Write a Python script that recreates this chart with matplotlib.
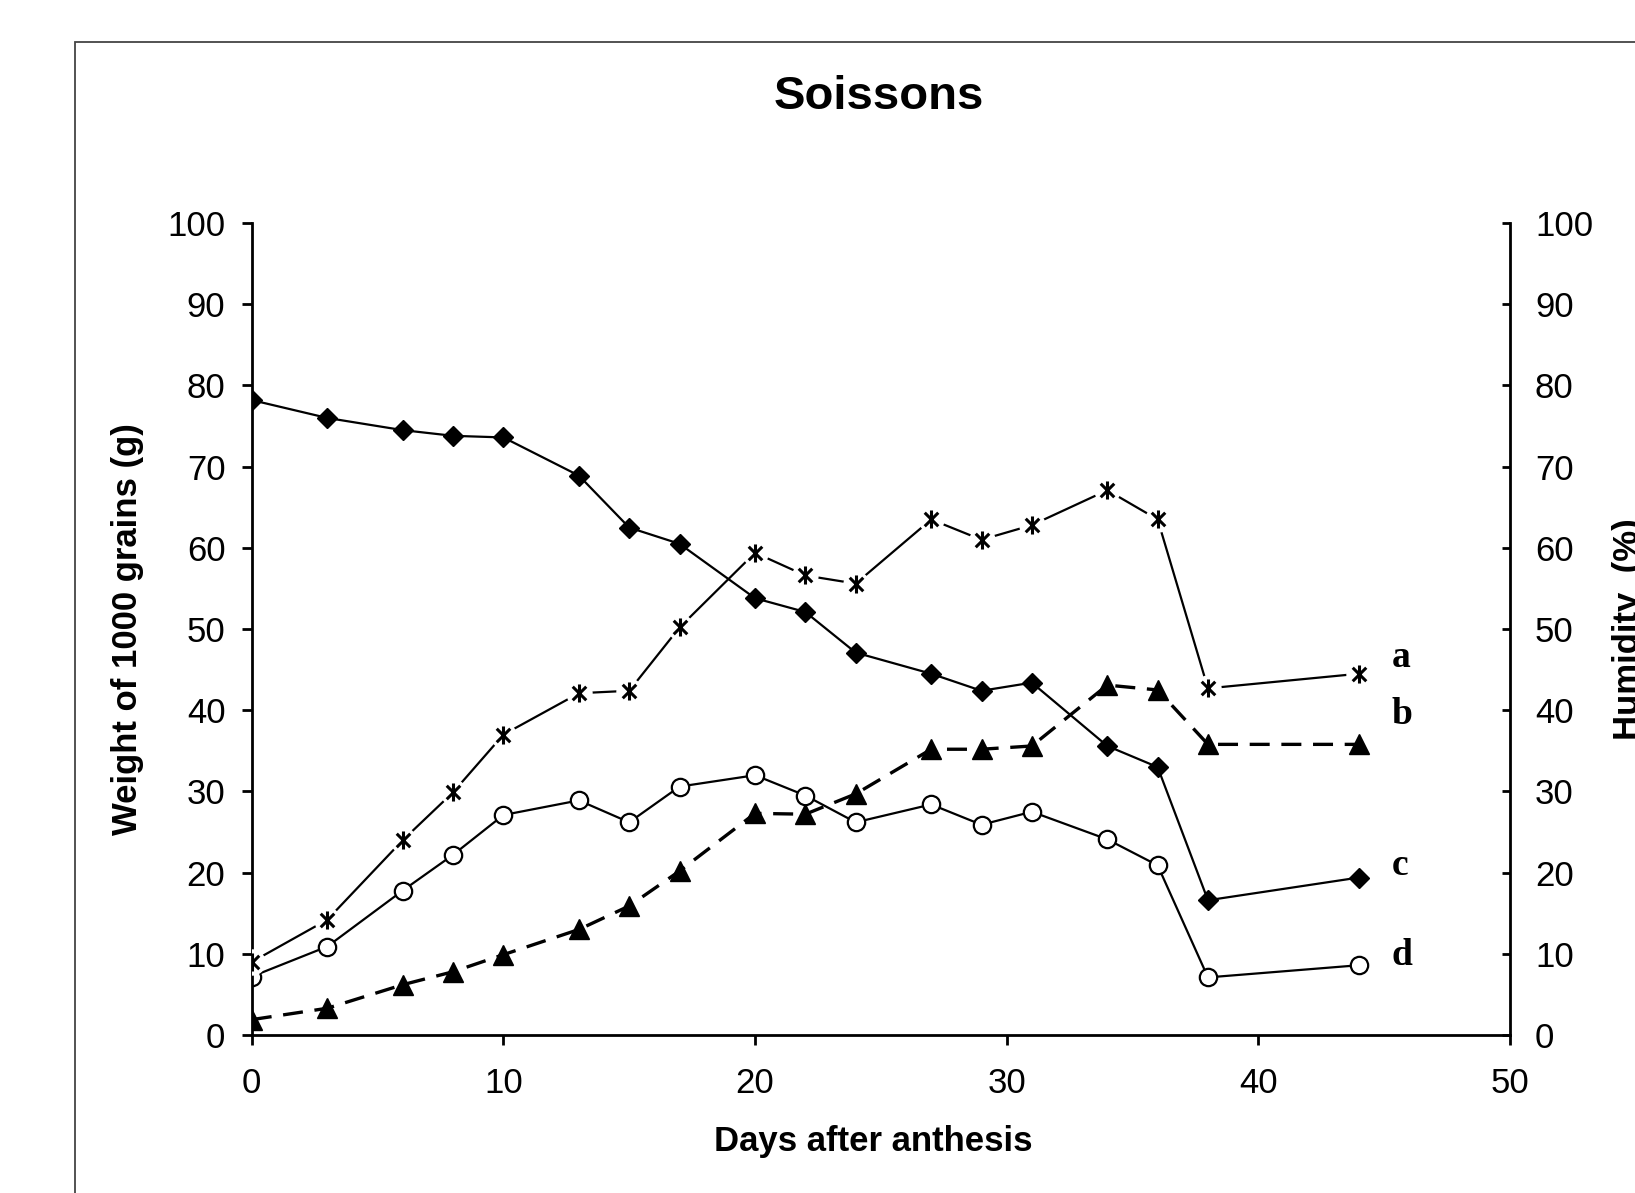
import numpy as np
import matplotlib
matplotlib.use("Agg")
import matplotlib.pyplot as plt
from matplotlib.path import Path
from matplotlib.patches import Rectangle

plt.rcParams['font.family'] = ['Liberation Sans', 'DejaVu Sans']

# Data
days = [0, 3, 6, 8, 10, 13, 15, 17, 20, 22, 24, 27, 29, 31, 34, 36, 38, 44]
series_a = [9.0, 14.2, 24.0, 29.9, 37.0, 42.1, 42.4, 50.2, 59.4, 56.6,
            55.6, 63.5, 61.0, 62.8, 67.1, 63.5, 42.7, 44.5]
series_b = [1.9, 3.3, 6.2, 7.8, 9.9, 13.0, 15.9, 20.2, 27.3, 27.2,
            29.7, 35.2, 35.2, 35.6, 43.1, 42.5, 35.8, 35.8]
series_c = [78.2, 76.0, 74.5, 73.8, 73.6, 68.9, 62.5, 60.5, 53.8, 52.1,
            47.1, 44.5, 42.4, 43.4, 35.6, 33.0, 16.6, 19.4]
series_d = [7.2, 10.9, 17.8, 22.2, 27.1, 28.9, 26.2, 30.6, 32.0, 29.5,
            26.2, 28.4, 25.9, 27.5, 24.1, 20.9, 7.1, 8.6]
end_labels = ['a', 'b', 'c', 'd']
end_label_y = [46.5, 39.5, 20.9, 9.8]

# asterisk marker: vertical stroke plus an x
star = Path([(0, -1), (0, 1), (-0.75, -0.75), (0.75, 0.75), (-0.75, 0.75), (0.75, -0.75)],
            [Path.MOVETO, Path.LINETO, Path.MOVETO, Path.LINETO, Path.MOVETO, Path.LINETO])

fig = plt.figure(figsize=(16.35, 11.93), dpi=100)
ax = fig.add_axes([0.154, 0.1324, 0.7695, 0.6806])
ax2 = ax.twinx()

# frame around the chart area
fig.patches.append(Rectangle((75 / 1635, -0.1), 1.2, 1 - 42 / 1193 + 0.1,
                             transform=fig.transFigure, fill=False,
                             edgecolor='#444444', linewidth=1.3))

lw = 1.6
# a: asterisks, solid
ax.plot(days, series_a, color='black', lw=lw, zorder=2)
ax.plot(days, series_a, ls='none', marker='o', ms=19, mfc='white', mec='none', zorder=3)
ax.plot(days, series_a, ls='none', marker=star, ms=13, mec='black', mew=2.2, zorder=4)
# b: triangles, dashed
ax.plot(days, series_b, color='black', lw=2.4, ls=(0, (6, 3.5)), marker='^', ms=14,
        mfc='black', mec='black', zorder=2)
# d: open circles
ax.plot(days, series_d, color='black', lw=lw, marker='o', ms=12.5, mfc='white',
        mec='black', mew=1.6, zorder=2)
# c: diamonds (humidity, right axis)
ax2.plot(days, series_c, color='black', lw=lw, marker='D', ms=10.5, mfc='black',
         mec='black', zorder=2)

for lab, yv in zip(end_labels, end_label_y):
    ax.text(45.3, yv, lab, fontsize=27, fontweight='bold', ha='left', va='center',
            family=['Liberation Serif', 'DejaVu Serif'])

for a in (ax, ax2):
    a.set_xlim(0, 50)
    a.set_ylim(0, 100)
    a.set_yticks(np.arange(0, 101, 10))
    a.spines['top'].set_visible(False)
    for s in ('left', 'right', 'bottom'):
        a.spines[s].set_linewidth(2.0)
ax.spines['right'].set_visible(False)
ax2.spines['left'].set_visible(False)
ax2.spines['bottom'].set_visible(False)
ax.set_xticks(np.arange(0, 51, 10))
ax.tick_params(axis='both', labelsize=25, width=2, length=7, direction='out')
ax.tick_params(axis='y', pad=12)
ax.tick_params(axis='x', pad=16)
ax2.tick_params(axis='y', labelsize=25, width=2, length=6, direction='in', pad=18)
ax2.set_zorder(ax.get_zorder() - 1)
ax.patch.set_visible(False)

fig.text(843 * 1.0427 / 1635, 1 - 97 / 1193, 'Soissons', fontsize=34, fontweight='bold',
         ha='center', va='center')
fig.text(0.534, 1 - 1142 / 1193, 'Days after anthesis', fontsize=25,
         fontweight='bold', ha='center', va='center')
fig.text(127 / 1635, 0.1324 + 0.6806 / 2, 'Weight of 1000 grains (g)', fontsize=25,
         fontweight='bold', ha='center', va='center', rotation=90)
fig.text(1628 / 1635, 0.1324 + 0.6806 / 2, 'Humidity  (%)', fontsize=25,
         fontweight='bold', ha='center', va='center', rotation=90)

fig.savefig('out.png', dpi=100, facecolor='white')
